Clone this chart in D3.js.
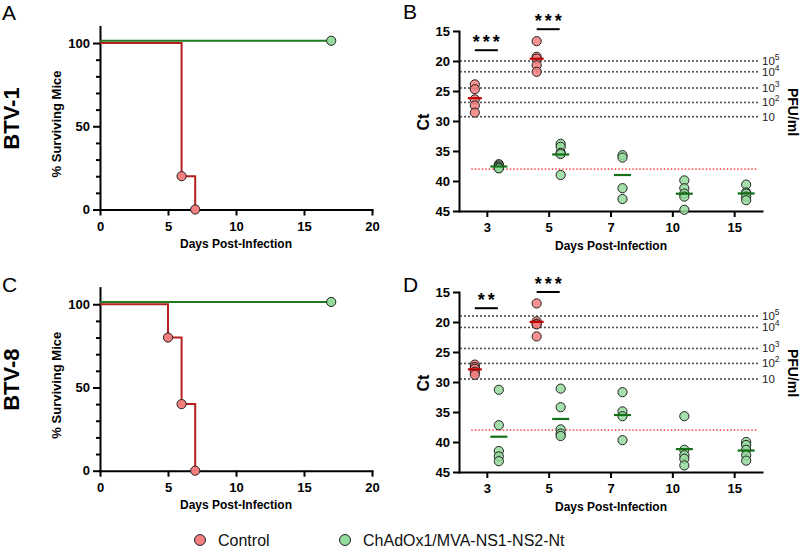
<!DOCTYPE html>
<html>
<head>
<meta charset="utf-8">
<script src="https://cdn.jsdelivr.net/npm/d3@7"></script>
<style>
  body { margin: 0; background: #fff; }
  svg { display: block; }
</style>
</head>
<body>
<script>
// ---------------- DATA ----------------
const seriesNames = ["Control", "ChAdOx1/MVA-NS1-NS2-Nt"];

// Survival (Kaplan-Meier) data
const btv1ControlDays = [0, 6, 7];
const btv1ControlSurv = [100, 20, 0];
const btv8ControlDays = [0, 5, 6, 7];
const btv8ControlSurv = [100, 80, 40, 0];
const vaccineDays = [0, 17];
const vaccineSurv = [100, 100];
const survXTicks = [0, 5, 10, 15, 20];
const survYTicks = [0, 50, 100];

// Ct values per day post-infection
const ctDays = ["3", "5", "7", "10", "15"];
const ctYTicks = [15, 20, 25, 30, 35, 40, 45];
const btv1ControlCt = [
  [23.9, 24.7, 26.4, 27.4, 28.6],
  [16.7, 19.3, 19.6, 20.7, 21.8]
];
const btv1VaccineCt = [
  [37.2, 37.4, 37.6, 37.8, 37.9],
  [33.8, 34.3, 35.3, 35.5, 39.0],
  [35.7, 36.1, 41.2, 43.0],
  [39.9, 41.2, 42.1, 42.6, 44.8],
  [40.6, 41.9, 42.1, 42.6, 43.2]
];
const btv8ControlCt = [
  [27.1, 27.5, 27.8, 28.3, 28.8],
  [16.9, 19.9, 20.3, 20.4, 22.4]
];
const btv8VaccineCt = [
  [31.3, 37.2, 41.5, 42.4, 43.2],
  [31.1, 34.2, 37.9, 38.6, 39.0],
  [31.7, 34.9, 35.7, 39.7],
  [35.7, 41.3, 42.2, 42.8, 43.9],
  [40.0, 40.5, 41.3, 42.2, 43.1]
];

// Standard curve (PFU/ml) reference lines
const pfuExponents = ["5", "4", "3", "2", ""];
const btv1StdCt = [20, 21.8, 24.5, 26.9, 29.3];
const btv8StdCt = [19, 20.9, 24.4, 26.9, 29.5];
const detectionLimitCt = 38;

// Significance annotations
const btv1Sig = ["***", "***"];
const btv8Sig = ["**", "***"];

// ---------------- DRAWING ----------------
const F = "'Liberation Sans', Arial, Helvetica, sans-serif";
const RED_FILL = "#f47f7f", GREEN_FILL = "#95db9d";
const RED_LINE = "#b3201f", GREEN_LINE = "#1f7a22";
const RED_MEAN = "#c00000", GREEN_MEAN = "#137016";

const svg = d3.select("body").append("svg")
  .attr("width", 800).attr("height", 548);

function styleAxis(g) {
  g.select(".domain").attr("stroke", "#000").attr("stroke-width", 2).attr("stroke-linecap", "square");
  g.selectAll(".tick line").attr("stroke", "#000").attr("stroke-width", 2);
  g.selectAll(".tick text").attr("font-family", F).attr("font-size", 13)
    .attr("font-weight", "bold").attr("fill", "#000");
}

function survivalPanel(oy, cDays, cSurv, letter, sero) {
  const g = svg.append("g");
  const x = d3.scaleLinear([0, 20], [100, 372]);
  const y = d3.scaleLinear([0, 110], [209.5 + oy, 26.4 + oy]);

  const minor = d3.range(10, 100, 10).filter(v => v !== 50);
  g.append("g").attr("transform", "translate(100,0)")
    .call(d3.axisLeft(y).tickValues(minor).tickSize(4).tickSizeOuter(0).tickFormat(""))
    .call(styleAxis).call(a => a.select(".domain").remove());
  g.append("g").attr("transform", "translate(100,0)")
    .call(d3.axisLeft(y).tickValues(survYTicks).tickSize(7).tickSizeOuter(0).tickPadding(3))
    .call(styleAxis);
  g.append("g").attr("transform", `translate(0,${y(0)})`)
    .call(d3.axisBottom(x).tickValues(survXTicks).tickSize(6).tickSizeOuter(0).tickPadding(6))
    .call(styleAxis);

  const line = d3.line().x(d => x(d[0])).y(d => y(d[1])).curve(d3.curveStepAfter);
  const vac = vaccineDays.map((d, i) => [d, vaccineSurv[i]]);
  const ctl = cDays.map((d, i) => [d, cSurv[i]]);

  g.append("path").attr("d", line(vac)).attr("transform", "translate(0,-2.3)")
    .attr("fill", "none").attr("stroke", GREEN_LINE).attr("stroke-width", 2);
  g.append("path").attr("d", line(ctl))
    .attr("fill", "none").attr("stroke", RED_LINE).attr("stroke-width", 2);

  g.selectAll(".cc").data(ctl.slice(1)).join("circle")
    .attr("cx", d => x(d[0])).attr("cy", d => y(d[1])).attr("r", 4.6)
    .attr("fill", RED_FILL).attr("stroke", "#222").attr("stroke-width", 1);
  g.selectAll(".vc").data(vac.slice(1)).join("circle")
    .attr("cx", d => x(d[0])).attr("cy", d => y(d[1]) - 2.3).attr("r", 4.6)
    .attr("fill", GREEN_FILL).attr("stroke", "#222").attr("stroke-width", 1);

  g.append("text").attr("x", 236).attr("y", 247.5 + oy).attr("text-anchor", "middle")
    .attr("font-family", F).attr("font-size", 12).attr("font-weight", "bold")
    .text("Days Post-Infection");
  g.append("text").attr("transform", `translate(61,${124 + oy}) rotate(-90)`)
    .attr("text-anchor", "middle").attr("font-family", F).attr("font-size", 13)
    .attr("font-weight", "bold").text("% Surviving Mice");
  g.append("text").attr("transform", `translate(19,${118.5 + oy}) rotate(-90)`)
    .attr("text-anchor", "middle").attr("font-family", F).attr("font-size", 22)
    .attr("font-weight", "bold").text(sero);
  g.append("text").attr("x", 2).attr("y", letter === "A" ? 20 : 292)
    .attr("font-family", F).attr("font-size", 21).text(letter);
}

function ctPanel(oy, ctrl, vacc, std, sig, letter) {
  const g = svg.append("g");
  const x = d3.scalePoint(ctDays, [459, 762]).padding(0.45);
  const y = d3.scaleLinear([15, 45], [31 + oy, 211 + oy]);
  const off = 12;

  g.append("g").attr("transform", "translate(459,0)")
    .call(d3.axisLeft(y).tickValues(ctYTicks).tickSize(6).tickSizeOuter(0).tickPadding(3))
    .call(styleAxis);
  g.append("g").attr("transform", `translate(0,${y(45)})`)
    .call(d3.axisBottom(x).tickSize(6).tickSizeOuter(0).tickPadding(6))
    .call(styleAxis);

  std.forEach((c, i) => {
    g.append("line").attr("x1", 461).attr("x2", 759).attr("y1", y(c)).attr("y2", y(c))
      .attr("stroke", "#333").attr("stroke-width", 1.9).attr("stroke-linecap", "round")
      .attr("stroke-dasharray", "0,4");
    const t = g.append("text").attr("x", 762).attr("y", y(c) + 4)
      .attr("font-family", F).attr("font-size", 11.5).attr("fill", "#222").text("10");
    if (pfuExponents[i]) t.append("tspan").attr("dy", -5).attr("font-size", 8.5).text(pfuExponents[i]);
  });
  g.append("line").attr("x1", 472).attr("x2", 757)
    .attr("y1", y(detectionLimitCt)).attr("y2", y(detectionLimitCt))
    .attr("stroke", "#ff2a2a").attr("stroke-width", 1.7).attr("stroke-linecap", "round")
    .attr("stroke-dasharray", "0,3.5");

  function drawGroup(vals, dayIdx, dx, fill, meanColor, w) {
    const cx = x(ctDays[dayIdx]) + dx;
    g.selectAll(null).data(vals).join("circle")
      .attr("cx", cx).attr("cy", d => y(d)).attr("r", 4.6)
      .attr("fill", fill).attr("fill-opacity", 0.85)
      .attr("stroke", "#222").attr("stroke-width", 1);
    const m = d3.mean(vals);
    g.append("line").attr("x1", cx - w / 2).attr("x2", cx + w / 2)
      .attr("y1", y(m)).attr("y2", y(m)).attr("stroke", meanColor).attr("stroke-width", 2.2);
  }
  vacc.forEach((v, i) => drawGroup(v, i, off, GREEN_FILL, GREEN_MEAN, 17));
  ctrl.forEach((v, i) => drawGroup(v, i, -off, RED_FILL, RED_MEAN, 14));

  const barCt = letter === "B" ? [18.2, 14.7] : [17.7, 15.0];
  sig.forEach((s, i) => {
    const cx = x(ctDays[i]);
    g.append("line").attr("x1", cx - 12).attr("x2", cx + 11)
      .attr("y1", y(barCt[i])).attr("y2", y(barCt[i]))
      .attr("stroke", "#000").attr("stroke-width", 2);
    g.append("text").attr("x", cx + 1).attr("y", y(barCt[i]) - 2)
      .attr("text-anchor", "middle").attr("font-family", F).attr("font-size", 18)
      .attr("font-weight", "bold").attr("letter-spacing", 3).text(s);
  });

  g.append("text").attr("x", 611).attr("y", 250 + oy).attr("text-anchor", "middle")
    .attr("font-family", F).attr("font-size", 12).attr("font-weight", "bold")
    .text("Days Post-Infection");
  g.append("text").attr("transform", `translate(429,${122 + oy}) rotate(-90)`)
    .attr("text-anchor", "middle").attr("font-family", F).attr("font-size", 16)
    .attr("font-weight", "bold").text("Ct");
  g.append("text").attr("transform", `translate(788,${112 + oy}) rotate(90)`)
    .attr("text-anchor", "middle").attr("font-family", F).attr("font-size", 14)
    .attr("font-weight", "bold").text("PFU/ml");
  g.append("text").attr("x", 403).attr("y", letter === "B" ? 19 : 292)
    .attr("font-family", F).attr("font-size", 21).text(letter);
}

survivalPanel(0, btv1ControlDays, btv1ControlSurv, "A", "BTV-1");
survivalPanel(261.2, btv8ControlDays, btv8ControlSurv, "C", "BTV-8");
ctPanel(0, btv1ControlCt, btv1VaccineCt, btv1StdCt, btv1Sig, "B");
ctPanel(261, btv8ControlCt, btv8VaccineCt, btv8StdCt, btv8Sig, "D");

const legend = svg.append("g");
const legX = [200, 345];
const legFill = [RED_FILL, GREEN_FILL];
seriesNames.forEach((n, i) => {
  legend.append("circle").attr("cx", legX[i]).attr("cy", 540).attr("r", 5.5)
    .attr("fill", legFill[i]).attr("stroke", "#222").attr("stroke-width", 1);
  legend.append("text").attr("x", legX[i] + 18).attr("y", 546)
    .attr("font-family", F).attr("font-size", 16).attr("fill", "#111").text(n);
});
</script>
</body>
</html>
